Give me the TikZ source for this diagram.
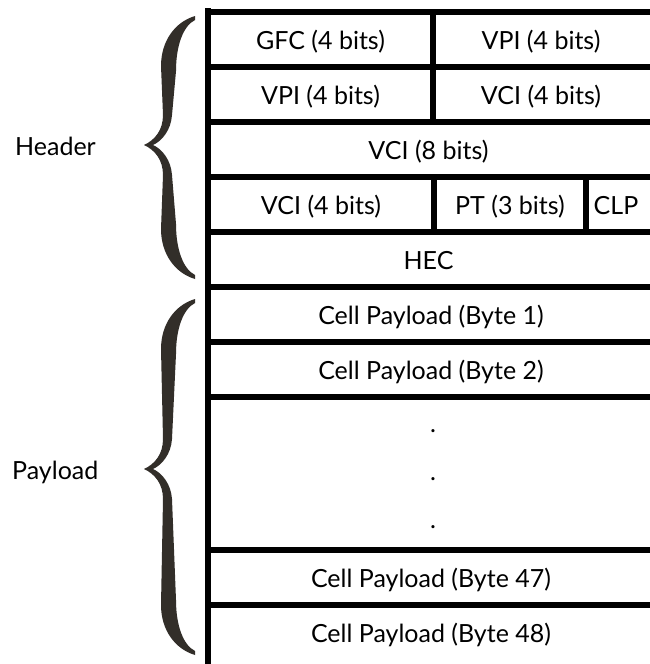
\documentclass[tikz,border=0pt]{standalone}
\usepackage{fontspec}
\setmainfont{Lato}
\definecolor{bracecol}{RGB}{50,46,41}
\tikzset{
  rule/.style={line width=6pt, black},
  lbl/.style={anchor=base, inner sep=0pt, font=\fontsize{25}{30}\selectfont},
  side/.style={anchor=base west, inner sep=0pt, font=\fontsize{25}{30}\selectfont},
}
\newcommand\calbrace[3]{%
 \fill[bracecol] (195,{#1})
  .. controls (175,{#1+6}) and (161,{#1+25}) .. (161,{#1+50})
  -- (163,{#2-30})
  .. controls (163,{#2-15}) and (155,{#2-5}) .. (144,{#2})
  .. controls (155,{#2+5}) and (163,{#2+15}) .. (163,{#2+30})
  -- (161,{#3-50})
  .. controls (161,{#3-25}) and (175,{#3-6}) .. (195,{#3})
  -- (195,{#3-4})
  .. controls (183,{#3-10}) and (176,{#3-30}) .. (176,{#3-55})
  -- (172,{#2+30})
  .. controls (171,{#2+15}) and (162,{#2+4}) .. (153,{#2})
  .. controls (162,{#2-4}) and (171,{#2-15}) .. (172,{#2-30})
  -- (176,{#1+55})
  .. controls (176,{#1+30}) and (183,{#1+10}) .. (195,{#1+4})
  -- cycle;}
\begin{document}
\begin{tikzpicture}[x=1pt,y=-1pt]
\useasboundingbox[fill=white] (0,0) rectangle (649,664);
% main vertical rule
\draw[rule] (208,8) -- (208,664);
% horizontal rules
\foreach \yy in {12,67,122,177,232,287,342,397,550,605}
  \draw[rule] (205,\yy) -- (652,\yy);
% dividers
\draw[rule] (433,9) -- (433,122);
\draw[rule] (434,177) -- (434,232);
\draw[rule] (586,177) -- (586,232);
% texts
\node[lbl] (gfc)  at (320.5,49) {GFC (4 bits)};
\node[lbl] (vpi1) at (541,49) {VPI (4 bits)};
\node[lbl] (vpi2) at (320.5,104) {VPI (4 bits)};
\node[lbl] (vci1) at (541,104) {VCI (4 bits)};
\node[lbl] (vci8) at (428.5,159) {VCI (8 bits)};
\node[lbl] (vci4) at (321,214) {VCI (4 bits)};
\node[lbl] (pt)   at (510,214) {PT (3 bits)};
\node[lbl] (clp)  at (616,214) {CLP};
\node[lbl] (hec)  at (428.5,269) {HEC};
\node[lbl] (p1)   at (431,324) {Cell Payload (Byte 1)};
\node[lbl] (p2)   at (431,379) {Cell Payload (Byte 2)};
\node[lbl] (d1)   at (433,432) {.};
\node[lbl] (d2)   at (433,480) {.};
\node[lbl] (d3)   at (433,528) {.};
\node[lbl] (p47)  at (431,587) {Cell Payload (Byte 47)};
\node[lbl] (p48)  at (431,642) {Cell Payload (Byte 48)};
\node[side] (hdr) at (15,155) {Header};
\node[side] (pay) at (12,479) {Payload};
% braces
\calbrace{16}{145}{279}
\calbrace{299}{469}{655}
\end{tikzpicture}
\end{document}
